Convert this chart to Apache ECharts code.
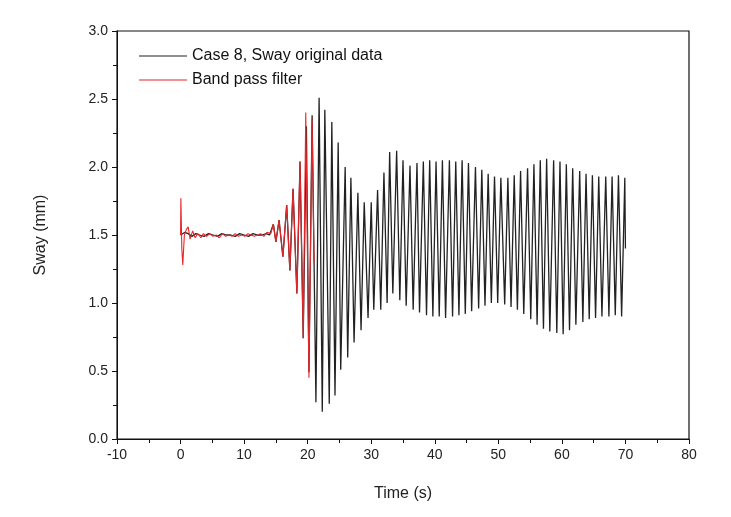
<!DOCTYPE html>
<html>
<head>
<meta charset="utf-8">
<script src="https://cdn.jsdelivr.net/npm/echarts@6/dist/echarts.min.js"></script>
<style>html,body{margin:0;padding:0;background:#fff}#c{width:731px;height:517px}</style>
</head>
<body>
<div id="c"></div>
<script>
// Case 8, Sway original data: time (s) and sway (mm) at read-off turning points
var blackTime = [0.0,0.3,0.7,1.2,1.8,2.4,3.0,3.7,4.4,5.1,5.8,6.5,7.2,7.9,8.6,9.3,10.0,10.7,11.4,12.1,12.8,13.5,14.0,
  14.6,15.0,15.5,16.1,16.7,17.2,17.7,18.3,18.8,19.3,19.8,20.2,20.7,21.3,21.8,22.3,22.7,23.4,23.8,24.3,24.8,25.2,25.9,26.3,26.8,27.3,27.9,28.4,28.9,29.5,30.0,30.4,31.0,31.5,32.0,32.5,32.9,33.4,34.0,34.5,35.0,35.5,36.1,36.6,37.2,37.6,38.2,38.7,39.2,39.7,40.2,40.7,41.2,41.7,42.3,42.8,43.3,43.8,44.3,44.8,45.3,45.8,46.4,46.9,47.4,47.9,48.4,48.9,49.4,49.9,50.4,51.0,51.5,52.0,52.5,53.0,53.5,54.0,54.6,55.1,55.6,56.1,56.6,57.1,57.6,58.1,58.7,59.2,59.7,60.2,60.7,61.2,61.7,62.2,62.8,63.3,63.8,64.3,64.8,65.3,65.8,66.3,66.9,67.4,67.9,68.4,68.9,69.4,69.9,70.0];
var blackSway = [1.50,1.49,1.52,1.51,1.49,1.51,1.50,1.49,1.51,1.50,1.49,1.51,1.50,1.50,1.49,1.51,1.50,1.49,1.51,1.50,1.50,1.51,1.50,
  1.58,1.45,1.61,1.34,1.72,1.24,1.84,1.07,2.04,0.74,2.30,0.49,2.38,0.27,2.51,0.20,2.42,0.26,2.33,0.32,2.18,0.51,2.00,0.60,1.92,0.71,1.81,0.80,1.74,0.89,1.74,0.95,1.83,0.95,1.96,1.00,2.11,1.07,2.12,1.02,2.05,0.98,2.01,0.95,2.03,0.93,2.04,0.91,2.05,0.90,2.04,0.90,2.05,0.89,2.05,0.90,2.04,0.91,2.05,0.92,2.03,0.94,2.00,0.96,1.98,0.98,1.95,1.00,1.93,1.00,1.92,0.99,1.92,0.97,1.94,0.95,1.97,0.92,1.99,0.88,2.02,0.84,2.05,0.81,2.06,0.79,2.05,0.78,2.04,0.77,2.02,0.80,1.99,0.84,1.97,0.86,1.95,0.88,1.94,0.89,1.93,0.90,1.93,0.90,1.93,0.91,1.94,0.90,1.92,1.40];

// Band pass filter
var redTime = [0.0,0.05,0.2,0.35,0.6,0.9,1.2,1.5,1.9,2.3,2.7,3.2,3.6,4.1,4.6,5.1,5.6,6.1,6.6,7.1,7.6,8.1,8.6,9.1,9.6,10.1,10.6,11.1,11.6,12.1,12.6,13.1,13.6,14.2,
  14.6,15.0,15.5,16.1,16.7,17.2,17.7,18.3,18.8,19.3,19.7,20.2,20.7,21.0];
var redSway = [1.50,1.77,1.40,1.28,1.50,1.54,1.56,1.47,1.53,1.48,1.51,1.48,1.51,1.49,1.51,1.49,1.50,1.48,1.51,1.49,1.50,1.49,1.51,1.49,1.50,1.49,1.51,1.50,1.49,1.50,1.51,1.49,1.52,1.51,
  1.58,1.45,1.61,1.34,1.72,1.24,1.84,1.07,2.04,0.74,2.40,0.45,2.35,1.30];

var xTicks = [-10, 80, 10];   // min, max, interval
var yTicks = [0, 3.0, 0.5];

function pairs(t, v) { return t.map(function (x, i) { return [x, v[i]]; }); }

var chart = echarts.init(document.getElementById('c'), null, {renderer: 'canvas'});
var font = 'Liberation Sans, Arial, sans-serif';
chart.setOption({
  animation: false,
  backgroundColor: '#fff',
  grid: {left: 117, right: 42, top: 31, bottom: 78, show: true, borderColor: '#111', borderWidth: 1.2, backgroundColor: 'transparent'},
  legend: {
    orient: 'vertical', left: 134, top: 43, itemGap: 8, itemWidth: 48, itemHeight: 1,
    icon: 'rect',
    textStyle: {fontFamily: font, fontSize: 16, color: '#111'},
    data: ['Case 8, Sway original data', 'Band pass filter']
  },
  xAxis: {
    type: 'value', min: xTicks[0], max: xTicks[1], interval: xTicks[2],
    name: 'Time (s)', nameLocation: 'middle', nameGap: 47,
    nameTextStyle: {fontFamily: font, fontSize: 16, color: '#222'},
    axisLine: {show: true, onZero: false, lineStyle: {color: '#111', width: 1}},
    axisTick: {show: true, inside: false, length: 5, lineStyle: {color: '#111'}},
    minorTick: {show: true, splitNumber: 2, length: 4, lineStyle: {color: '#111'}},
    axisLabel: {fontFamily: font, fontSize: 14, color: '#222', margin: 9},
    splitLine: {show: false}
  },
  yAxis: {
    type: 'value', min: yTicks[0], max: yTicks[1], interval: yTicks[2],
    name: 'Sway (mm)', nameLocation: 'middle', nameGap: 68,
    nameTextStyle: {fontFamily: font, fontSize: 16, color: '#222'},
    axisLine: {show: true, onZero: false, lineStyle: {color: '#111', width: 1}},
    axisTick: {show: true, inside: false, length: 5, lineStyle: {color: '#111'}},
    minorTick: {show: true, splitNumber: 2, length: 4, lineStyle: {color: '#111'}},
    axisLabel: {fontFamily: font, fontSize: 14, color: '#222', margin: 9, formatter: function (v) { return v.toFixed(1); }},
    splitLine: {show: false}
  },
  series: [
    {name: 'Case 8, Sway original data', type: 'line', data: pairs(blackTime, blackSway), showSymbol: false,
     color: '#222', lineStyle: {color: '#222', width: 1.3}, z: 2},
    {name: 'Band pass filter', type: 'line', data: pairs(redTime, redSway), showSymbol: false,
     color: '#e8262a', lineStyle: {color: '#e8262a', width: 1.1}, z: 3}
  ]
});
</script>
</body>
</html>
